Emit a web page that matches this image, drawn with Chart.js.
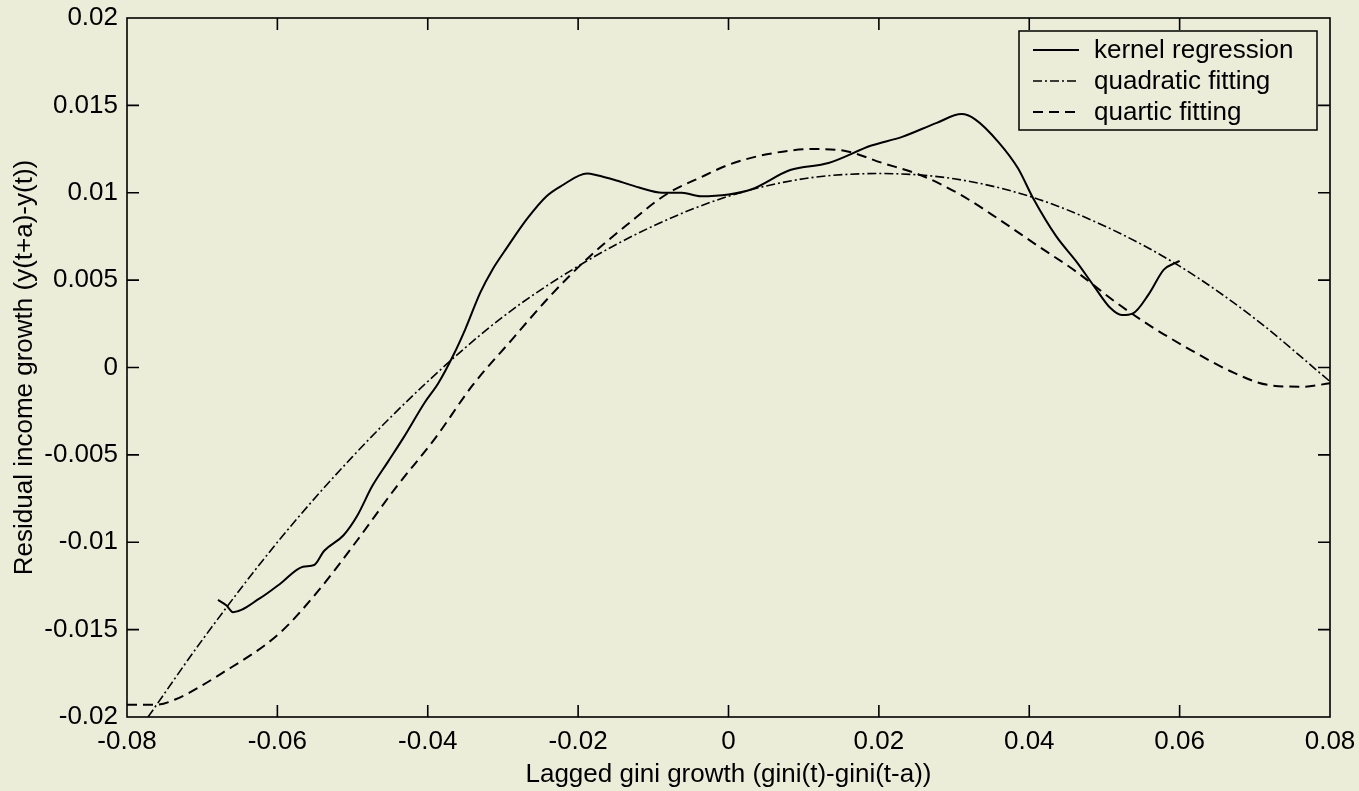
<!DOCTYPE html>
<html>
<head>
<meta charset="utf-8">
<script src="https://cdn.jsdelivr.net/npm/chart.js@4.4.1/dist/chart.umd.min.js"></script>
<style>
  html, body { margin: 0; padding: 0; background: #ecedd9; }
  #wrap { width: 1359px; height: 791px; }
</style>
</head>
<body>
<div id="wrap"><canvas id="chart" width="1359" height="791"></canvas></div>
<script>
// values
const seriesNames = ['kernel regression', 'quadratic fitting', 'quartic fitting'];

const kernelX = [-0.0679, -0.0668, -0.0659, -0.0623, -0.0597, -0.0566, -0.0551, -0.0538, -0.0512, -0.0494,
  -0.0474, -0.0453, -0.0432, -0.0404, -0.0386, -0.0366, -0.0350, -0.0330, -0.0314, -0.0294,
  -0.0268, -0.0242, -0.0222, -0.0188, -0.0175, -0.0149, -0.0119, -0.0088, -0.0062, -0.0037,
  0.0000, 0.0031, 0.0082, 0.0133, 0.0190, 0.0231, 0.0277, 0.0310, 0.0328, 0.0359,
  0.0385, 0.0405, 0.0436, 0.0462, 0.0487, 0.0508, 0.0523, 0.0538, 0.0559, 0.0579,
  0.0595, 0.0600];
const kernelY = [-0.0133, -0.0136, -0.0140, -0.0132, -0.0124, -0.0114, -0.0113, -0.0105, -0.0096, -0.0085,
  -0.0068, -0.0054, -0.0040, -0.0020, -0.0009, 0.0007, 0.0022, 0.0043, 0.0056, 0.0069,
  0.0085, 0.0098, 0.0104, 0.0111, 0.0110, 0.0107, 0.0103, 0.0100, 0.0100, 0.0098,
  0.0099, 0.0102, 0.0113, 0.0117, 0.0127, 0.0132, 0.0140, 0.0145, 0.0142, 0.0129,
  0.0114, 0.0097, 0.0075, 0.0061, 0.0046, 0.0034, 0.0030, 0.0031, 0.0042, 0.0056,
  0.0060, 0.0061];

const quadX = [-0.0772, -0.07, -0.06, -0.05, -0.04, -0.03, -0.02, -0.01, 0, 0.01,
  0.02, 0.03, 0.04, 0.05, 0.06, 0.07, 0.08];
const quadY = [-0.0200, -0.0156, -0.0100, -0.0051, -0.0008, 0.0029, 0.0058, 0.0081, 0.0098, 0.0108,
  0.0111, 0.0108, 0.0098, 0.0081, 0.0058, 0.0028, -0.0008];

const quartX = [-0.0800, -0.0761, -0.0736, -0.0674, -0.0597, -0.0546, -0.0494, -0.0443, -0.0391, -0.0340,
  -0.0288, -0.0237, -0.0186, -0.0134, -0.0083, -0.0031, 0.0000, 0.0051, 0.0113, 0.0154,
  0.0205, 0.0256, 0.0308, 0.0359, 0.0410, 0.0462, 0.0513, 0.0564, 0.0615, 0.0667,
  0.0718, 0.0764, 0.0800];
const quartY = [-0.0193, -0.0193, -0.0190, -0.0175, -0.0152, -0.0128, -0.0099, -0.0069, -0.0041, -0.0010,
  0.0016, 0.0041, 0.0063, 0.0082, 0.0099, 0.0110, 0.0116, 0.0122, 0.0125, 0.0124,
  0.0117, 0.0110, 0.0099, 0.0085, 0.0070, 0.0055, 0.0038, 0.0023, 0.0010, -0.0002,
  -0.0010, -0.0011, -0.0009];

const xTicks = [-0.08, -0.06, -0.04, -0.02, 0, 0.02, 0.04, 0.06, 0.08];
const yTicks = [-0.02, -0.015, -0.01, -0.005, 0, 0.005, 0.01, 0.015, 0.02];

const bg = '#ecedd9';
const font = { family: '"Liberation Sans", Arial, sans-serif', size: 26 };

function pairs(xs, ys) {
  return xs.map((x, i) => ({ x: x, y: ys[i] }));
}

function fmt(v) {
  return String(parseFloat(Number(v).toFixed(4)));
}

// box round the plot with inward ticks on all four sides
const framePlugin = {
  id: 'frame',
  afterDatasetsDraw(chart) {
    const { ctx, chartArea: a, scales } = chart;
    const len = 12;
    ctx.save();
    ctx.strokeStyle = '#000';
    ctx.lineWidth = 1.6;
    ctx.strokeRect(a.left, a.top, a.right - a.left, a.bottom - a.top);
    ctx.beginPath();
    scales.x.ticks.forEach(t => {
      const px = scales.x.getPixelForValue(t.value);
      if (px <= a.left + 1 || px >= a.right - 1) return;
      ctx.moveTo(px, a.bottom); ctx.lineTo(px, a.bottom - len);
      ctx.moveTo(px, a.top); ctx.lineTo(px, a.top + len);
    });
    scales.y.ticks.forEach(t => {
      const py = scales.y.getPixelForValue(t.value);
      if (py <= a.top + 1 || py >= a.bottom - 1) return;
      ctx.moveTo(a.left, py); ctx.lineTo(a.left + len, py);
      ctx.moveTo(a.right, py); ctx.lineTo(a.right - len, py);
    });
    ctx.stroke();
    ctx.restore();
  }
};

// legend box in the upper right corner of the plot
const legendBox = {
  id: 'legendBox',
  afterDraw(chart) {
    const { ctx, chartArea: a } = chart;
    const w = 298, h = 99;
    const left = a.right - 13 - w, top = a.top + 13;
    ctx.save();
    ctx.fillStyle = bg;
    ctx.fillRect(left, top, w, h);
    ctx.strokeStyle = '#000';
    ctx.lineWidth = 1.5;
    ctx.strokeRect(left, top, w, h);
    ctx.font = font.size + 'px ' + font.family;
    ctx.textBaseline = 'middle';
    ctx.fillStyle = '#000';
    chart.data.datasets.forEach((ds, i) => {
      const y = top + 19 + i * 31;
      ctx.setLineDash(ds.borderDash || []);
      ctx.lineWidth = ds.borderWidth;
      ctx.beginPath();
      ctx.moveTo(left + 14, y);
      ctx.lineTo(left + 60, y);
      ctx.stroke();
      ctx.setLineDash([]);
      ctx.fillText(ds.label, left + 75, y + 1);
    });
    ctx.restore();
  }
};

new Chart(document.getElementById('chart'), {
  type: 'line',
  data: {
    datasets: [
      {
        label: seriesNames[0],
        data: pairs(kernelX, kernelY),
        borderColor: '#000',
        borderWidth: 2,
        pointRadius: 0,
        cubicInterpolationMode: 'monotone',
        fill: false
      },
      {
        label: seriesNames[1],
        data: pairs(quadX, quadY),
        borderColor: '#000',
        borderWidth: 1.6,
        borderDash: [9, 3, 2, 3],
        pointRadius: 0,
        cubicInterpolationMode: 'monotone',
        fill: false
      },
      {
        label: seriesNames[2],
        data: pairs(quartX, quartY),
        borderColor: '#000',
        borderWidth: 2,
        borderDash: [10, 6],
        pointRadius: 0,
        cubicInterpolationMode: 'monotone',
        fill: false
      }
    ]
  },
  options: {
    responsive: false,
    animation: false,
    layout: { padding: { top: 18, right: 29, bottom: 0, left: 0 } },
    plugins: { legend: { display: false }, tooltip: { enabled: false } },
    scales: {
      x: {
        type: 'linear',
        min: -0.08,
        max: 0.08,
        grid: { display: false, drawTicks: false },
        border: { display: false },
        afterBuildTicks: s => { s.ticks = xTicks.map(v => ({ value: v })); },
        afterFit: s => { s.height = 74; s.paddingLeft = 0; s.paddingRight = 0; },
        ticks: { padding: 9, color: '#000', font: font, maxRotation: 0, autoSkip: false, callback: v => fmt(v) },
        title: {
          display: true,
          text: 'Lagged gini growth (gini(t)-gini(t-a))',
          color: '#000',
          font: font,
          padding: { top: 0, bottom: 1 }
        }
      },
      y: {
        type: 'linear',
        min: -0.02,
        max: 0.02,
        grid: { display: false, drawTicks: false },
        border: { display: false },
        afterBuildTicks: s => { s.ticks = yTicks.map(v => ({ value: v })); },
        afterFit: s => { s.width = 127; s.paddingTop = 0; s.paddingBottom = 0; },
        ticks: { padding: 9, color: '#000', font: font, autoSkip: false, callback: v => fmt(v) },
        title: {
          display: true,
          text: 'Residual income growth (y(t+a)-y(t))',
          color: '#000',
          font: font,
          padding: { top: 9, bottom: 0 }
        }
      }
    }
  },
  plugins: [framePlugin, legendBox]
});
</script>
</body>
</html>
